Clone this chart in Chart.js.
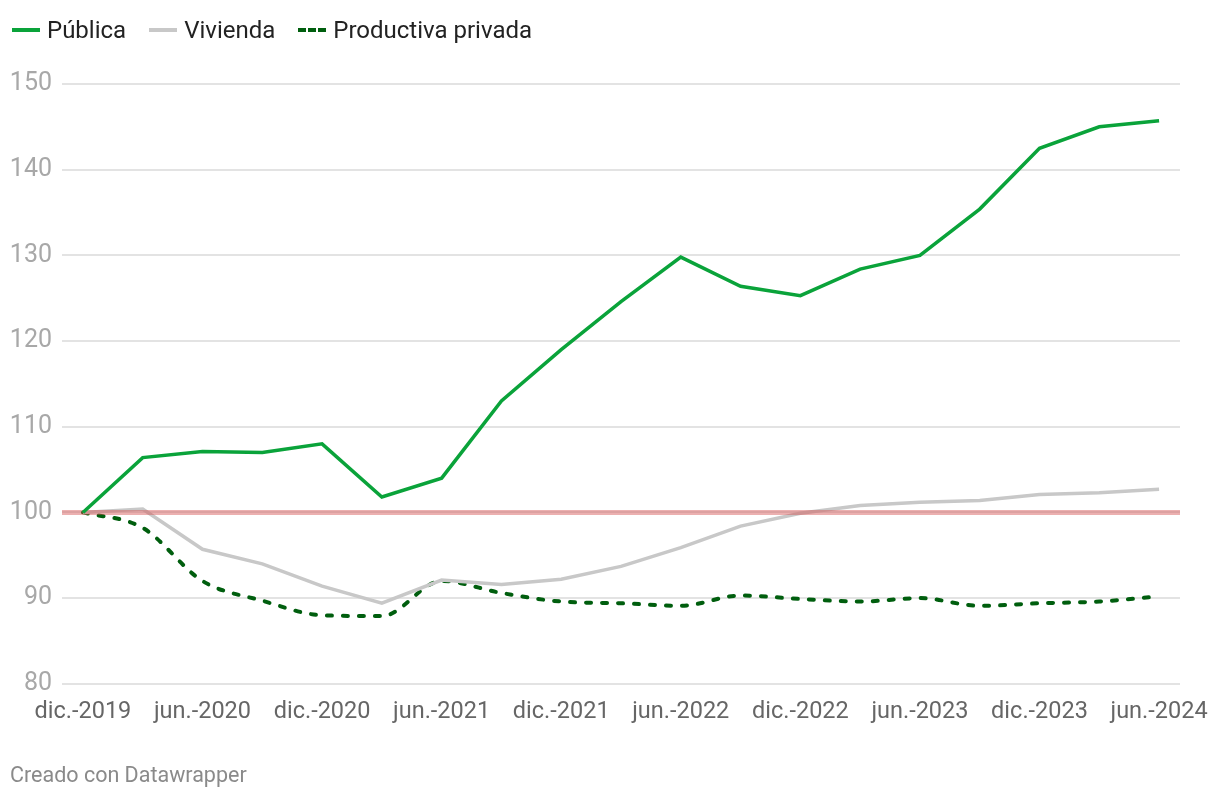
<!DOCTYPE html>
<html>
<head>
<meta charset="utf-8">
<script src="https://cdn.jsdelivr.net/npm/chart.js@4.4.0/dist/chart.umd.min.js"></script>
<style>
  html, body { margin: 0; padding: 0; background: #fff; }
  #wrap { position: relative; width: 1220px; height: 800px; font-family: Roboto, "Noto Sans", sans-serif; }
  #chart { position: absolute; left: 0; top: 0; }
  #legend { position: absolute; left: 12px; top: 15px; display: flex; align-items: center; font-size: 24px; color: #222; line-height: 30px; }
  .item { display: flex; align-items: center; margin-right: 23px; }
  .swatch { width: 28px; height: 0; margin-right: 7px; }
  #footer { position: absolute; left: 10px; top: 762px; font-size: 21.5px; color: #8a8a8a; }
</style>
</head>
<body>
<div id="wrap">
  <canvas id="chart" width="1220" height="800"></canvas>
  <div id="legend"></div>
  <div id="footer">Creado con Datawrapper</div>
</div>
<script>
const categories = ["dic.-2019","mar.-2020","jun.-2020","sep.-2020","dic.-2020","mar.-2021","jun.-2021","sep.-2021","dic.-2021","mar.-2022","jun.-2022","sep.-2022","dic.-2022","mar.-2023","jun.-2023","sep.-2023","dic.-2023","mar.-2024","jun.-2024"];
const publica = [100,106.4,107.1,107.0,108.0,101.8,104.0,113.0,119.0,124.6,129.8,126.4,125.3,128.4,130.0,135.4,142.5,145.0,145.7];
const vivienda = [100,100.4,95.7,94.0,91.4,89.4,92.1,91.6,92.2,93.7,95.9,98.4,99.9,100.8,101.2,101.4,102.1,102.3,102.7];
const productiva = [100,98.2,92.0,89.7,88.0,87.9,92.0,90.6,89.6,89.4,89.1,90.3,89.9,89.6,90.0,89.1,89.4,89.6,90.2];
const yTicks = [80,90,100,110,120,130,140,150];
const referenceValue = 100;
const seriesNames = ["Pública","Vivienda","Productiva privada"];

const colors = { publica: "#0aa33a", vivienda: "#c8c8c8", productiva: "#005e0e" };

function toXY(arr){ return arr.map((v,i)=>({x:i,y:v})); }

// HTML legend
const legendDefs = [
  {name: seriesNames[0], style: "border-top: 4px solid " + colors.publica},
  {name: seriesNames[1], style: "border-top: 4px solid " + colors.vivienda},
  {name: seriesNames[2], style: "border-top: 4px dashed " + colors.productiva}
];
const leg = document.getElementById("legend");
legendDefs.forEach(d => {
  const it = document.createElement("div"); it.className = "item";
  const sw = document.createElement("span"); sw.className = "swatch"; sw.style.cssText = d.style;
  const tx = document.createElement("span"); tx.textContent = d.name;
  it.appendChild(sw); it.appendChild(tx); leg.appendChild(it);
});

const refLine = {
  id: "refLine",
  afterDatasetDraw(chart, args) {
    if (args.index !== 1) return;
    const {ctx, chartArea} = chart;
    const y = chart.scales.y.getPixelForValue(referenceValue);
    ctx.save();
    ctx.strokeStyle = "rgba(212,80,80,0.45)";
    ctx.lineWidth = 5;
    ctx.beginPath();
    ctx.moveTo(chartArea.left, y);
    ctx.lineTo(chartArea.right, y);
    ctx.stroke();
    ctx.restore();
  }
};

new Chart(document.getElementById("chart"), {
  type: "line",
  data: {
    datasets: [
      { label: seriesNames[0], data: toXY(publica), borderColor: colors.publica, borderWidth: 3.5, pointRadius: 0, tension: 0 },
      { label: seriesNames[1], data: toXY(vivienda), borderColor: colors.vivienda, borderWidth: 3.5, pointRadius: 0, tension: 0 },
      { label: seriesNames[2], data: toXY(productiva), borderColor: colors.productiva, borderWidth: 4, pointRadius: 0, cubicInterpolationMode: "monotone", borderDash: [5,11], borderCapStyle: "round" }
    ]
  },
  options: {
    responsive: false,
    animation: false,
    layout: { padding: { top: 84, left: 10, right: 40, bottom: 60 } },
    plugins: { legend: { display: false }, tooltip: { enabled: false } },
    scales: {
      x: {
        type: "linear",
        min: -0.35, max: 18.35,
        grid: { display: false, drawTicks: false },
        border: { display: false },
        afterBuildTicks(scale) { scale.ticks = categories.map((c,i)=>({value:i})).filter(t => t.value % 2 === 0); },
        afterFit(scale) { scale.paddingRight = 0; scale.paddingLeft = 0; },
        ticks: {
          padding: 14,
          autoSkip: false,
          maxRotation: 0,
          color: "#666",
          font: { family: "Roboto", size: 23.5 },
          callback: (v) => categories[v]
        }
      },
      y: {
        min: 80, max: 150,
        grid: { color: "#e3e3e3", lineWidth: 2, drawTicks: false },
        border: { display: false },
        afterBuildTicks(scale) { scale.ticks = yTicks.map(v => ({value: v})); },
        afterFit(scale) { scale.width = 52; },
        ticks: { padding: 10, color: "#a8a8a8", font: { family: "Roboto", size: 25 } }
      }
    }
  },
  plugins: [refLine]
});
</script>
</body>
</html>
